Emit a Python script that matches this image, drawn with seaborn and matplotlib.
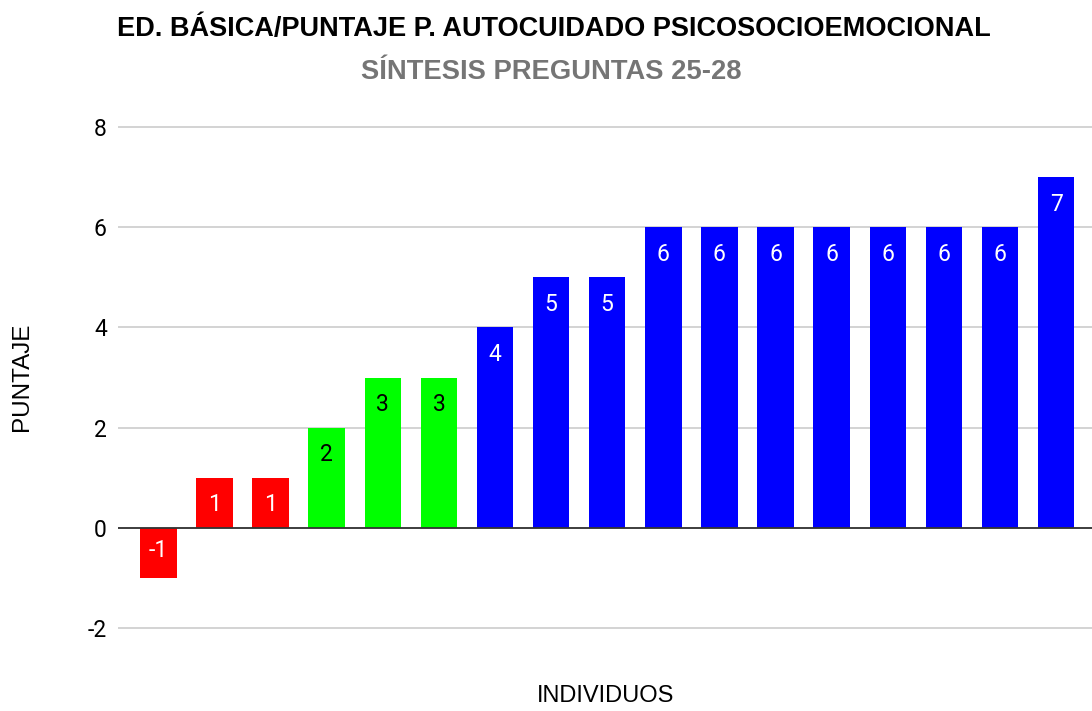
import matplotlib
matplotlib.use("Agg")
import matplotlib.pyplot as plt
import seaborn as sns
import pandas as pd

# ------------------------------------------------------------------
# DATA
# ------------------------------------------------------------------
individuos = [str(i) for i in range(1, 18)]
puntajes = [-1, 1, 1, 2, 3, 3, 4, 5, 5, 6, 6, 6, 6, 6, 6, 6, 7]
colores = ["#ff0000"] * 3 + ["#00ff00"] * 3 + ["#0000ff"] * 11
color_texto = ["white"] * 3 + ["black"] * 3 + ["white"] * 11
y_ticks = [-2, 0, 2, 4, 6, 8]

titulo = "ED. BÁSICA/PUNTAJE P. AUTOCUIDADO PSICOSOCIOEMOCIONAL"
subtitulo = "SÍNTESIS PREGUNTAS 25-28"

df = pd.DataFrame({"individuo": individuos, "puntaje": puntajes})

sns.set_theme(style="white")
plt.rcParams["font.family"] = ["Roboto", "DejaVu Sans"]
plt.rcParams["text.color"] = "black"
plt.rcParams["ytick.color"] = "black"

fig = plt.figure(figsize=(10.92, 7.11), dpi=100)
ax = fig.add_axes([0.108, 0.1146, 0.892, 0.7089])

sns.barplot(data=df, x="individuo", y="puntaje", hue="individuo",
            palette=colores, width=0.65, legend=False, ax=ax,
            saturation=1, linewidth=0)

ax.set_ylim(-2.03, 8.03)
ax.set_xlim(-0.72, 16.64)
ax.set_yticks(y_ticks)
ax.set_yticklabels([str(t) for t in y_ticks], fontsize=16.5)
ax.tick_params(axis="y", length=0, pad=8)
ax.set_xticks([])
ax.grid(axis="y", color="#cccccc", linewidth=1.2)
ax.axhline(0, color="#333333", linewidth=1.3, zorder=3)
ax.set_axisbelow(True)
for s in ax.spines.values():
    s.set_visible(False)

# value labels inside the bar end, centred ~19pt from the end
for cont, col in zip(ax.containers, color_texto):
    for t in ax.bar_label(cont, padding=-19.5, fontsize=16.5):
        t.set_color(col)
        t.set_va("center")

ax.set_xlabel("")
ax.set_ylabel("")
fig.text(0.555, 0.021, "INDIVIDUOS", ha="center", va="center",
         fontsize=17, family=["Liberation Sans"])
fig.text(0.020, 0.470, "PUNTAJE", ha="center", va="center", rotation=90,
         fontsize=17.5, family=["Liberation Sans"])
fig.text(0.507, 0.959, titulo, ha="center", va="center", fontsize=19.5,
         fontweight="bold", family=["Liberation Sans"])
fig.text(0.5046, 0.899, subtitulo, ha="center", va="center", fontsize=19.7,
         fontweight="bold", color="#757575", family=["Liberation Sans"])

fig.savefig("out.png", dpi=100)
